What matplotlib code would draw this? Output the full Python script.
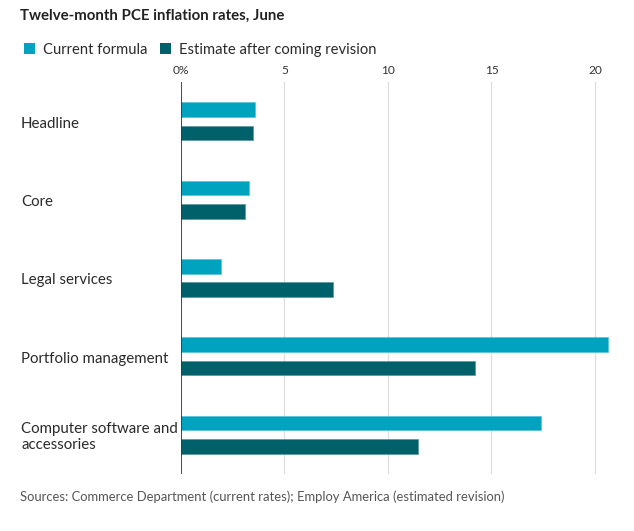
import matplotlib
matplotlib.use("Agg")
import matplotlib.pyplot as plt
from matplotlib.patches import Patch
from matplotlib.transforms import blended_transform_factory

categories = ["Headline", "Core", "Legal services", "Portfolio management",
              "Computer software and\naccessories"]
current_formula = [3.6, 3.3, 1.95, 20.6, 17.4]
estimate_revision = [3.5, 3.1, 7.35, 14.2, 11.45]
series_names = ["Current formula", "Estimate after coming revision"]
xticks = [0, 5, 10, 15, 20]
xticklabels = ["0%", "5", "10", "15", "20"]

C_CUR = "#00a3bf"
C_EST = "#00616a"
FONT = "Lato"
TXT = "#2a2a2a"

W, H = 634, 531
fig = plt.figure(figsize=(W / 100, H / 100), dpi=100)
ax = fig.add_axes([180.7 / W, 1 - 474 / H, (610 - 180.7) / W, (474 - 82) / H])

ypos = list(range(len(categories)))
bh = 0.187
off = 0.149
ax.barh([y - off for y in ypos], current_formula, height=bh, color=C_CUR,
        edgecolor="#5cc6d8", linewidth=0.6, zorder=3)
ax.barh([y + off for y in ypos], estimate_revision, height=bh, color=C_EST,
        edgecolor="#5f9aa0", linewidth=0.6, zorder=3)

ax.set_ylim(4.5, -0.5)
ax.set_xlim(0, (610 - 180.7) / 20.72)
ax.set_yticks([])
ax.xaxis.tick_top()
ax.set_xticks(xticks)
ax.set_xticklabels(xticklabels, fontfamily=FONT, fontsize=8.6, color="#333333")
ax.tick_params(axis="x", length=0, pad=4)
for s in ax.spines.values():
    s.set_visible(False)
ax.grid(axis="x", color="#dddddd", linewidth=0.9, zorder=0)
ax.axvline(0, color="#222222", linewidth=1.1, zorder=4)

tr = blended_transform_factory(fig.transFigure, ax.transData)
for y, lab in zip(ypos, categories):
    ax.text(21 / W, y + 0.03, lab, transform=tr, ha="left", va="center",
            fontfamily=FONT, fontsize=10.8, color=TXT, linespacing=1.2)

fig.text(20 / W, 1 - 16 / H, "Twelve-month PCE inflation rates, June",
         fontfamily=FONT, fontweight="bold", fontsize=10.8, color="#222222",
         ha="left", va="center")

handles = [Patch(facecolor=C_CUR, edgecolor="none"),
           Patch(facecolor=C_EST, edgecolor="none")]
fig.legend(handles, series_names, loc="center left",
           bbox_to_anchor=(11 / W, 1 - 50 / H), ncol=2, frameon=False,
           prop={"family": FONT, "size": 10.6}, handlelength=0.75,
           handleheight=0.75, handletextpad=0.55, columnspacing=0.8,
           labelcolor=TXT)

fig.text(20 / W, 1 - 497 / H,
         "Sources: Commerce Department (current rates); Employ America (estimated revision)",
         fontfamily=FONT, fontsize=9.4, color="#555555", ha="left", va="center")

fig.savefig("out.png", dpi=100)
